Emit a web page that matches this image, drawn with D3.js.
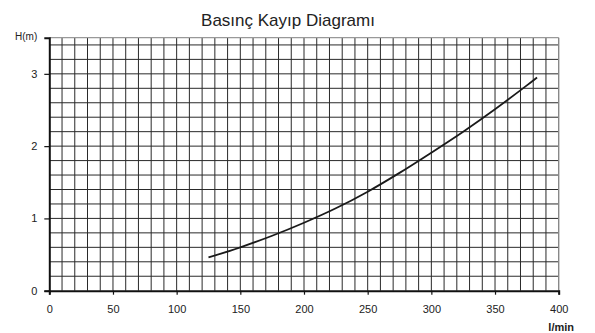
<!DOCTYPE html>
<html>
<head>
<meta charset="utf-8">
<script src="https://cdn.jsdelivr.net/npm/d3@7/dist/d3.min.js"></script>
<style>
  body { margin: 0; background: #fff; }
  svg { display: block; font-family: "Liberation Sans", Arial, sans-serif; }
</style>
</head>
<body>
<svg id="chart" width="595" height="333"></svg>
<script>
// flow (l/min) and pressure loss (m)
var flowValues = [125, 150, 175, 200, 225, 250, 275, 300, 325, 350, 375, 383];
var headValues = [0.46, 0.60, 0.76, 0.94, 1.14, 1.37, 1.63, 1.91, 2.20, 2.51, 2.84, 2.95];

var xTicks = [0, 50, 100, 150, 200, 250, 300, 350, 400];
var yTicks = [0, 1, 2, 3];

var TITLE = "Basınç Kayıp Diagramı";
var X_LABEL = "l/min";
var Y_LABEL = "H(m)";

var margin = { top: 37.7, right: 36.3, bottom: 42.3, left: 49.3 };
var WIDTH = 595, HEIGHT = 333;
var GRID_COLOR = "#2a2a2a";

var svg = d3.select("#chart");
var w = WIDTH - margin.left - margin.right;
var h = HEIGHT - margin.top - margin.bottom;

var x = d3.scaleLinear().domain([0, 400]).range([0, w]);
var y = d3.scaleLinear().domain([0, 3.5]).range([h, 0]);

var g = svg.append("g").attr("transform", "translate(" + margin.left + "," + margin.top + ")");

// grid: every 10 l/min and every 0.2 m
var vLines = d3.range(10, 400, 10);
var hLines = d3.range(1, 18).map(function(i) { return +(i * 0.2).toFixed(1); });

g.selectAll(".vgrid")
    .data(vLines)
    .enter().append("line")
    .attr("x1", function(d) { return x(d); })
    .attr("x2", function(d) { return x(d); })
    .attr("y1", 0)
    .attr("y2", h)
    .attr("stroke", GRID_COLOR)
    .attr("stroke-width", 1);

g.selectAll(".hgrid")
    .data(hLines)
    .enter().append("line")
    .attr("x1", 0)
    .attr("x2", w)
    .attr("y1", function(d) { return y(d); })
    .attr("y2", function(d) { return y(d); })
    .attr("stroke", GRID_COLOR)
    .attr("stroke-width", 1);

// top and right border, lighter
g.append("line")
    .attr("x1", 0).attr("x2", w)
    .attr("y1", y(3.5)).attr("y2", y(3.5))
    .attr("stroke", "#999").attr("stroke-width", 1.2);
g.append("line")
    .attr("x1", x(400)).attr("x2", x(400))
    .attr("y1", 0).attr("y2", h)
    .attr("stroke", "#888").attr("stroke-width", 1.4);

// axes
var xAxis = d3.axisBottom(x).tickValues(xTicks).tickSize(4).tickPadding(11);
var yAxis = d3.axisLeft(y).tickValues(yTicks).tickFormat(d3.format("d")).tickSize(5).tickPadding(7);

var gx = g.append("g").attr("transform", "translate(0," + h + ")").call(xAxis);
var gy = g.append("g").call(yAxis);

[gx, gy].forEach(function(a) {
    a.select(".domain").attr("stroke", "#111").attr("stroke-width", 2);
    a.selectAll(".tick line").attr("stroke", "#111").attr("stroke-width", 1.2);
    a.selectAll(".tick text")
        .attr("fill", "#222")
        .style("font-size", "11px")
        .style("font-family", "Liberation Sans, Arial, sans-serif");
});

// curve
var line = d3.line()
    .x(function(d, i) { return x(flowValues[i]); })
    .y(function(d) { return y(d); })
    .curve(d3.curveCatmullRom);

g.append("path")
    .datum(headValues)
    .attr("fill", "none")
    .attr("stroke", "#1a1a1a")
    .attr("stroke-width", 1.8)
    .attr("d", line);

// texts
svg.append("text")
    .attr("x", 288)
    .attr("y", 26)
    .attr("text-anchor", "middle")
    .attr("fill", "#222")
    .style("font-size", "17px")
    .text(TITLE);

svg.append("text")
    .attr("x", 15)
    .attr("y", 40)
    .attr("fill", "#222")
    .style("font-size", "10px")
    .text(Y_LABEL);

svg.append("text")
    .attr("x", 574)
    .attr("y", 331)
    .attr("text-anchor", "end")
    .attr("fill", "#222")
    .style("font-size", "11px")
    .style("font-weight", "bold")
    .text(X_LABEL);
</script>
</body>
</html>
